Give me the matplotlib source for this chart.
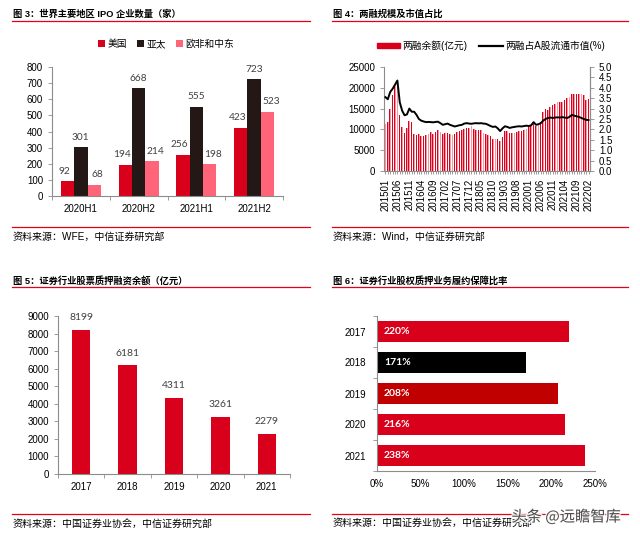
import matplotlib
matplotlib.use('Agg')
import matplotlib.pyplot as plt
import matplotlib.patheffects as pe
from matplotlib.patches import Patch
from matplotlib.lines import Line2D
from matplotlib.ticker import FuncFormatter
import numpy as np

plt.rcParams['font.family'] = ['Liberation Sans', 'Noto Sans CJK SC']
plt.rcParams['axes.unicode_minus'] = False

# --- data ---
ipo_periods = ['2020H1', '2020H2', '2021H1', '2021H2']
ipo_us = [92, 194, 256, 423]
ipo_apac = [301, 668, 555, 723]
ipo_emea = [68, 214, 198, 523]

months = ['%d%02d' % (y, m) for y in range(2015, 2023) for m in range(1, 13)][:86]
margin_bal = [
    11300, 11700, 14800, 18300, 20700, 21500, 13400, 10500, 9100, 10300, 11900, 11700,
    9000, 8600, 8800, 8400, 8500, 8700, 9000, 9300, 9000, 9400, 9800, 9400,
    8900, 9200, 9200, 9000, 8700, 9000, 9400, 9700, 9900, 10200, 10300, 10300,
    10900, 10100, 9900, 9900, 9800, 9100, 8900, 8700, 8300, 7700, 7700, 7600,
    7200, 8200, 9500, 9500, 9100, 9100, 9200, 9300, 9500, 9600, 9800, 10200,
    10500, 11000, 11400, 10800, 11000, 11800, 14200, 14800, 14600, 15300, 15800, 16200,
    16600, 16500, 16600, 17100, 17600, 17900, 18500, 18500, 18500, 18500, 18400, 18300,
    17100, 17200]
margin_pct = [
    3.55, 3.45, 3.80, 3.95, 4.15, 4.35, 3.30, 2.90, 2.68, 2.72, 3.00, 2.85,
    2.85, 2.70, 2.50, 2.42, 2.38, 2.35, 2.36, 2.35, 2.34, 2.36, 2.37, 2.30,
    2.22, 2.25, 2.28, 2.22, 2.18, 2.14, 2.17, 2.20, 2.22, 2.28, 2.30, 2.28,
    2.27, 2.29, 2.30, 2.29, 2.30, 2.28, 2.27, 2.22, 2.16, 2.12, 2.14, 2.05,
    1.92, 2.05, 2.15, 2.12, 2.07, 2.10, 2.12, 2.14, 2.15, 2.14, 2.16, 2.18,
    2.16, 2.20, 2.35, 2.22, 2.25, 2.30, 2.42, 2.50, 2.55, 2.57, 2.55, 2.57,
    2.58, 2.57, 2.59, 2.57, 2.55, 2.60, 2.70, 2.66, 2.63, 2.60, 2.55, 2.50,
    2.46, 2.45]

pledge_years = ['2017', '2018', '2019', '2020', '2021']
pledge_bal = [8199, 6181, 4311, 3261, 2279]

cover_years = ['2017', '2018', '2019', '2020', '2021']
cover_ratio = [2.20, 1.71, 2.08, 2.16, 2.38]
cover_colors = ['#D9001B', '#000000', '#C00000', '#D9001B', '#D9001B']

RED = '#D9001B'
PINK = '#FF6478'
DARK = '#231815'
AX = '#8C8C8C'
LINE_RED = '#E60012'

W, H = 640, 537
fig = plt.figure(figsize=(6.4, 5.37), dpi=100)


def box(x0, y0, x1, y1):
    return [x0 / W, 1 - y1 / H, (x1 - x0) / W, (y1 - y0) / H]


def frame(x0, x1, yt, yl, title, ysl, ys, src):
    fig.text(x0 / W, 1 - yt / H, title, fontsize=6.7, fontweight='bold',
             va='center', ha='left')
    fig.add_artist(Line2D([(x0 - 1) / W, x1 / W], [1 - yl / H] * 2,
                          color=LINE_RED, lw=0.9))
    fig.add_artist(Line2D([(x0 - 1) / W, x1 / W], [1 - ysl / H] * 2,
                          color=LINE_RED, lw=0.9))
    fig.text(x0 / W, 1 - ys / H, src, fontsize=7.2, va='center', ha='left')


def style(ax):
    for s in ['top', 'right']:
        ax.spines[s].set_visible(False)
    for s in ['left', 'bottom']:
        ax.spines[s].set_color(AX)
        ax.spines[s].set_linewidth(0.8)
    ax.tick_params(colors=AX, labelcolor='black', labelsize=7, length=3, width=0.6)
    ax.tick_params(which='minor', colors=AX, length=3, width=0.6)


frame(13, 310, 14, 21, '图 3：世界主要地区 IPO 企业数量（家）', 227, 237,
      '资料来源：WFE，中信证券研究部')
frame(333, 628, 14, 21, '图 4：两融规模及市值占比', 227, 237,
      '资料来源：Wind，中信证券研究部')
frame(13, 310, 281, 287, '图 5：证券行业股票质押融资余额（亿元）', 514, 524,
      '资料来源：中国证券业协会，中信证券研究部')
frame(333, 628, 281, 287, '图 6：证券行业股权质押业务履约保障比率', 514, 523,
      '资料来源：中国证券业协会，中信证券研究部')

# --- Figure 3 ---
ax1 = fig.add_axes(box(52, 67, 283, 196))
style(ax1)
x = np.arange(len(ipo_periods))
bw = 0.23
series = [(ipo_us, RED, '美国', -bw, -2.5), (ipo_apac, DARK, '亚太', 0, 0),
          (ipo_emea, PINK, '欧非和中东', bw, 2.5)]
for vals, c, lab, off, dx in series:
    bars = ax1.bar(x + off, vals, width=bw, color=c, label=lab)
    for b, v in zip(bars, vals):
        ax1.annotate(str(v), (b.get_x() + b.get_width() / 2, v), xytext=(dx, 4),
                     textcoords='offset points', ha='center', va='bottom',
                     fontsize=7.3, color='#404040', family='Lato')
ax1.set_ylim(0, 800)
ax1.set_yticks(range(0, 801, 100))
ax1.set_xlim(-0.5, 3.5)
ax1.set_xticks(x)
ax1.set_xticklabels(ipo_periods)
ax1.set_xticks(np.arange(-0.5, 4, 1), minor=True)
ax1.tick_params(axis='x', which='major', length=0, pad=6)
ax1.legend(loc='center', bbox_to_anchor=(166 / W, 1 - 44 / H), bbox_transform=fig.transFigure,
           ncol=3, frameon=False, fontsize=7, handlelength=0.7, handleheight=0.7,
           handletextpad=0.3, columnspacing=1.0)

# --- Figure 4 ---
ax2 = fig.add_axes(box(384, 67, 590, 171))
style(ax2)
ax2.spines['right'].set_visible(True)
ax2.spines['right'].set_color(AX)
xm = np.arange(len(months))
ax2.bar(xm - 0.17, margin_bal, width=0.36, color='#E0001B', lw=0)
ax2.bar(xm + 0.15, margin_bal, width=0.3, color='#F49AA4', lw=0)
ax2.set_ylim(0, 25000)
ax2.set_yticks(range(0, 25001, 5000))
ax2.set_xlim(-0.6, len(months) - 0.4)
ax2.set_xticks(xm[::5])
ax2.set_xticklabels(months[::5], rotation=90)
ax2.set_xticks(xm, minor=True)
ax2.tick_params(axis='x', which='both', length=2)
ax2b = ax2.twinx()
ax2b.plot(xm, margin_pct, color='black', lw=1.4)
ax2b.set_ylim(0, 5)
ax2b.set_yticks(np.arange(0, 5.01, 0.5))
ax2b.yaxis.set_major_formatter(FuncFormatter(lambda v, p: '%.1f' % v))
for s in ['top', 'left', 'bottom']:
    ax2b.spines[s].set_visible(False)
ax2b.spines['right'].set_color(AX)
ax2b.tick_params(colors=AX, labelcolor='black', labelsize=7, length=3, width=0.6)
handles = [Patch(color=RED), Line2D([], [], color='black', lw=1.6)]
ax2.legend(handles, ['两融余额(亿元)', '两融占A股流通市值(%)'], loc='center',
           bbox_to_anchor=(491 / W, 1 - 46 / H), bbox_transform=fig.transFigure,
           ncol=2, frameon=False, fontsize=7, handlelength=2.4, handleheight=0.45,
           handletextpad=0.3, columnspacing=1.2)

# --- Figure 5 ---
ax3 = fig.add_axes(box(58, 316, 290, 474))
style(ax3)
xp = np.arange(len(pledge_years))
bars = ax3.bar(xp, pledge_bal, width=0.4, color=RED)
for b, v in zip(bars, pledge_bal):
    ax3.text(b.get_x() + b.get_width() / 2, v + 450, str(v), ha='center', va='bottom',
             fontsize=7.5, color='#404040', family='Lato')
ax3.set_ylim(0, 9000)
ax3.set_yticks(range(0, 9001, 1000))
ax3.set_xlim(-0.5, 4.5)
ax3.set_xticks(xp)
ax3.set_xticklabels(pledge_years)
ax3.set_xticks(np.arange(-0.5, 5, 1), minor=True)
ax3.tick_params(axis='x', which='major', length=0, pad=6)

# --- Figure 6 ---
ax4 = fig.add_axes(box(377, 316, 595, 471))
style(ax4)
yc = np.arange(len(cover_years))
bars = ax4.barh(yc, cover_ratio, height=0.66, color=cover_colors)
for yy, v in zip(yc, cover_ratio):
    ax4.text(0.08, yy, '%d%%' % round(v * 100), ha='left', va='center', fontsize=7.5,
             color='white', fontweight='bold', family='Lato')
ax4.set_xlim(0, 2.5)
ax4.set_xticks(np.arange(0, 2.51, 0.5))
ax4.xaxis.set_major_formatter(FuncFormatter(lambda v, p: '%d%%' % round(v * 100)))
ax4.set_ylim(4.5, -0.5)
ax4.set_yticks(yc)
ax4.set_yticklabels(cover_years)
ax4.set_yticks(np.arange(-0.5, 5, 1), minor=True)
ax4.tick_params(axis='y', which='major', length=0, pad=8)
ax4.tick_params(axis='x', which='major', length=0, pad=6)

fig.text(566 / W, 1 - 517 / H, '头条 @远瞻智库', fontsize=11, color='#333333', alpha=0.85,
         ha='center', va='center', family=['Noto Sans CJK SC'],
         path_effects=[pe.withStroke(linewidth=2, foreground='white')])

fig.savefig('out.png', dpi=100)
